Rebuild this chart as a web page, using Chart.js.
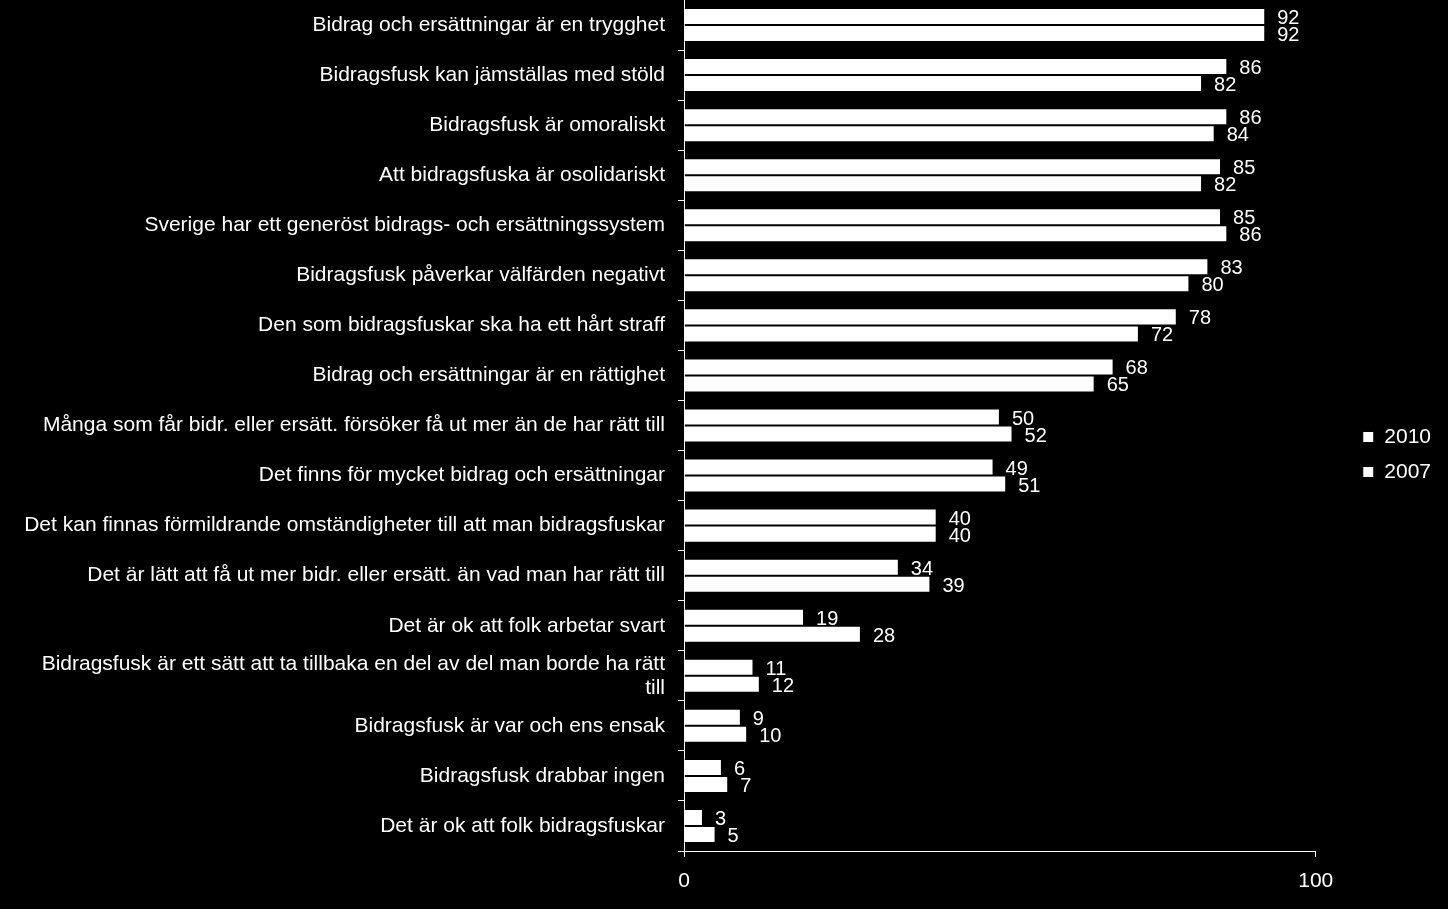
<!DOCTYPE html>
<html>
<head>
<meta charset="utf-8">
<script src="https://cdn.jsdelivr.net/npm/chart.js@4"></script>
<style>
  html, body { margin: 0; padding: 0; background: #000; }
  #wrap { width: 1448px; height: 909px; }
</style>
</head>
<body>
<div id="wrap"><canvas id="myChart" width="1448" height="909"></canvas></div>
<script>
var labels = [
  'Bidrag och ersättningar är en trygghet',
  'Bidragsfusk kan jämställas med stöld',
  'Bidragsfusk är omoraliskt',
  'Att bidragsfuska är osolidariskt',
  'Sverige har ett generöst bidrags- och ersättningssystem',
  'Bidragsfusk påverkar välfärden negativt',
  'Den som bidragsfuskar ska ha ett hårt straff',
  'Bidrag och ersättningar är en rättighet',
  'Många som får bidr. eller ersätt. försöker få ut mer än de har rätt till',
  'Det finns för mycket bidrag och ersättningar',
  'Det kan finnas förmildrande omständigheter till att man bidragsfuskar',
  'Det är lätt att få ut mer bidr. eller ersätt. än vad man har rätt till',
  'Det är ok att folk arbetar svart',
  ['Bidragsfusk är ett sätt att ta tillbaka en del av del man borde ha rätt', 'till'],
  'Bidragsfusk är var och ens ensak',
  'Bidragsfusk drabbar ingen',
  'Det är ok att folk bidragsfuskar'
];
var values2010 = [92, 86, 86, 85, 85, 83, 78, 68, 50, 49, 40, 34, 19, 11, 9, 6, 3];
var values2007 = [92, 82, 84, 82, 86, 80, 72, 65, 52, 51, 40, 39, 28, 12, 10, 7, 5];
var xTicks = [0, 100];

var FONT = 'Liberation Sans, Arial, sans-serif';

// draws the numbers next to each bar
var valueLabels = {
  id: 'valueLabels',
  afterDatasetsDraw: function (chart) {
    var ctx = chart.ctx;
    ctx.save();
    ctx.font = '20px ' + FONT;
    ctx.fillStyle = '#fff';
    ctx.textAlign = 'left';
    ctx.textBaseline = 'middle';
    chart.data.datasets.forEach(function (ds, i) {
      chart.getDatasetMeta(i).data.forEach(function (bar, j) {
        ctx.fillText(String(ds.data[j]), bar.x + 12, bar.y + 2);
      });
    });
    ctx.restore();
  }
};

// legend sits a bit further from the plot than chart.js puts it
var legendGap = {
  id: 'legendGap',
  afterLayout: function (chart) {
    var lg = chart.legend;
    if (lg) { lg.left += 33; lg.right += 33; }
  }
};

var ctx = document.getElementById('myChart').getContext('2d');
var myChart = new Chart(ctx, {
  type: 'bar',
  data: {
    labels: labels,
    datasets: [{
      label: '2010',
      data: values2010,
      backgroundColor: '#fff',
      borderColor: '#000',
      borderWidth: 1
    }, {
      label: '2007',
      data: values2007,
      backgroundColor: '#fff',
      borderColor: '#000',
      borderWidth: 1
    }]
  },
  options: {
    indexAxis: 'y',
    responsive: false,
    animation: false,
    devicePixelRatio: 1,
    categoryPercentage: 0.68,
    barPercentage: 1.0,
    layout: { padding: { top: 0, right: 40, bottom: 0, left: 0 } },
    plugins: {
      tooltip: { enabled: false },
      legend: {
        position: 'right',
        labels: {
          color: '#fff',
          boxWidth: 11,
          boxHeight: 11,
          padding: 14,
          font: { family: FONT, size: 21 }
        }
      }
    },
    scales: {
      x: {
        min: 0,
        max: 100,
        afterBuildTicks: function (scale) {
          scale.ticks = xTicks.map(function (v) { return { value: v }; });
        },
        afterFit: function (scale) { scale.height = 58; },
        border: { display: true, color: '#fff', width: 1 },
        grid: { drawOnChartArea: false, color: '#fff', tickLength: 6 },
        ticks: {
          color: '#fff',
          padding: 12,
          maxRotation: 0,
          font: { family: FONT, size: 21 }
        }
      },
      y: {
        afterFit: function (scale) {
          scale.width = 684;
          scale.paddingTop = 0;
          scale.paddingBottom = 0;
        },
        border: { display: true, color: '#fff', width: 1 },
        grid: { drawOnChartArea: false, color: '#fff', tickLength: 6, offset: true },
        ticks: {
          color: '#fff',
          padding: 13,
          autoSkip: false,
          font: { family: FONT, size: 21, lineHeight: 1.15 }
        }
      }
    }
  },
  plugins: [valueLabels, legendGap]
});
</script>
</body>
</html>
